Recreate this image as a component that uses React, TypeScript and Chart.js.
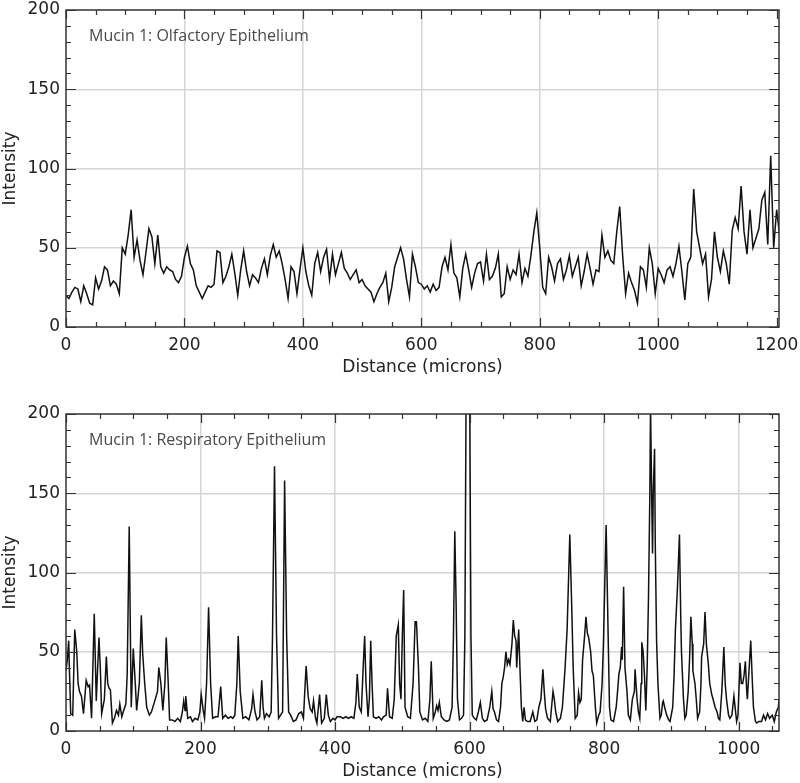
import React, { useEffect, useRef } from 'react';
import { Chart, registerables } from 'chart.js';

Chart.register(...registerables);

// ---------- DATA ----------
// Olfactory epithelium: intensity sampled every 5 microns, from 0 to 1205
const OLF_STEP = 5;
const olfIntensity = [
  20, 18, 22, 25, 24, 16, 26, 21, 15, 14,
  31, 24, 29, 38, 36, 26, 29, 27, 21, 50,
  46, 58, 74, 44, 55, 42, 33, 47, 62, 57,
  40, 58, 38, 34, 38, 36, 35, 30, 28, 32,
  44, 51, 40, 36, 26, 22, 18, 22, 26, 25,
  27, 48, 47, 28, 32, 38, 46, 34, 20, 36,
  48, 35, 26, 33, 31, 28, 37, 43, 33, 45,
  52, 44, 48, 40, 30, 18, 38, 35, 21, 36,
  50, 35, 26, 20, 40, 47, 35, 44, 49, 30,
  46, 33, 40, 47, 37, 34, 30, 33, 36, 28,
  30, 26, 24, 22, 16, 21, 25, 28, 34, 16,
  25, 38, 44, 50, 43, 30, 19, 46, 38, 28,
  27, 24, 26, 22, 27, 23, 25, 38, 44, 36,
  52, 34, 31, 19, 37, 46, 36, 25, 34, 40,
  41, 29, 46, 30, 32, 37, 46, 19, 21, 38,
  30, 36, 33, 46, 28, 37, 32, 45, 60, 72,
  50, 25, 21, 44, 38, 29, 40, 43, 30, 36,
  45, 32, 38, 44, 26, 35, 46, 37, 27, 36,
  35, 58, 44, 48, 42, 40, 60, 76, 45, 21,
  34, 28, 23, 15, 38, 36, 25, 50, 40, 21,
  37, 33, 28, 36, 38, 32, 40, 51, 35, 17,
  40, 44, 87, 60, 50, 40, 46, 19, 30, 60,
  44, 35, 48, 40, 27, 61, 69, 62, 89, 60,
  46, 74, 50, 56, 62, 80, 85, 52, 108, 50,
  74, 58,
];

// Respiratory epithelium: [distance (microns), intensity]
const respProfile: [number, number][] = [
  [0, 38], [2, 45], [4, 57], [5, 40], [7, 11], [10, 10], [13, 64], [16, 50], [18, 30], [20, 25],
  [23, 22], [26, 11], [30, 32], [33, 28], [35, 29], [38, 8], [42, 74], [45, 19], [49, 59], [51, 40],
  [53, 11], [57, 20], [60, 47], [62, 30], [64, 27], [66, 26], [69, 5], [72, 8], [75, 13], [78, 10],
  [80, 17], [83, 9], [85, 12], [89, 17], [91, 36], [94, 129], [96, 50], [97, 15], [100, 52], [103, 30],
  [105, 13], [109, 30], [112, 73], [114, 49], [117, 30], [120, 15], [124, 10], [127, 12], [132, 19], [136, 25],
  [138, 40], [141, 30], [144, 13], [147, 30], [149, 59], [152, 30], [154, 7], [158, 7], [162, 6], [166, 8],
  [170, 6], [173, 12], [175, 19], [177, 13], [178, 22], [181, 8], [185, 9], [188, 6], [192, 8], [196, 7],
  [199, 12], [201, 23], [204, 13], [206, 8], [209, 30], [212, 78], [215, 30], [218, 8], [222, 9], [226, 9],
  [230, 28], [233, 8], [237, 10], [241, 8], [245, 9], [248, 8], [251, 10], [254, 30], [256, 60], [259, 25],
  [263, 8], [267, 9], [272, 7], [276, 14], [278, 23], [281, 12], [284, 7], [288, 9], [291, 32], [293, 15],
  [295, 8], [298, 11], [302, 9], [305, 12], [307, 60], [310, 167], [313, 60], [316, 8], [319, 10], [322, 12],
  [325, 158], [328, 60], [331, 12], [334, 10], [338, 6], [342, 7], [346, 11], [350, 12], [353, 8], [355, 25],
  [357, 41], [360, 22], [363, 14], [366, 12], [368, 19], [371, 8], [373, 5], [377, 23], [380, 5], [384, 8],
  [387, 23], [390, 10], [393, 6], [397, 8], [400, 7], [403, 9], [408, 9], [412, 8], [416, 9], [420, 8],
  [424, 9], [428, 8], [431, 18], [433, 36], [436, 15], [439, 12], [442, 42], [444, 60], [446, 30], [449, 9],
  [451, 20], [453, 57], [455, 30], [457, 9], [461, 8], [465, 9], [469, 7], [472, 9], [476, 10], [478, 27],
  [481, 9], [485, 8], [488, 20], [491, 60], [494, 67], [496, 30], [498, 20], [500, 60], [502, 89], [504, 15],
  [508, 9], [512, 8], [516, 30], [519, 69], [521, 69], [524, 40], [526, 12], [530, 7], [534, 8], [538, 6],
  [541, 20], [543, 44], [546, 8], [549, 12], [551, 16], [553, 13], [555, 18], [558, 9], [562, 7], [566, 6],
  [570, 7], [574, 15], [576, 60], [578, 126], [580, 80], [582, 20], [585, 7], [588, 8], [591, 10], [593, 60],
  [595, 230], [598, 215], [600, 230], [602, 60], [604, 10], [607, 8], [610, 7], [613, 12], [616, 18], [619, 8],
  [622, 6], [626, 7], [630, 15], [633, 25], [635, 14], [637, 12], [640, 7], [643, 6], [646, 15], [648, 30],
  [650, 34], [652, 40], [654, 50], [656, 42], [658, 45], [660, 42], [663, 55], [665, 70], [667, 60], [669, 57],
  [670, 40], [673, 64], [675, 38], [677, 15], [679, 6], [681, 15], [683, 7], [686, 6], [690, 6], [694, 12],
  [697, 6], [700, 7], [703, 15], [706, 20], [709, 39], [711, 25], [713, 14], [716, 8], [720, 6], [724, 25],
  [726, 20], [728, 12], [731, 6], [735, 8], [738, 15], [742, 40], [745, 64], [749, 124], [752, 76], [754, 40],
  [757, 8], [760, 10], [762, 24], [764, 18], [766, 20], [768, 45], [771, 60], [773, 72], [775, 62], [777, 59],
  [780, 50], [782, 38], [784, 35], [787, 15], [789, 5], [792, 10], [794, 12], [797, 30], [799, 55], [803, 130],
  [806, 60], [808, 15], [810, 7], [814, 6], [818, 15], [820, 25], [822, 36], [824, 40], [826, 53], [827, 45],
  [829, 91], [831, 40], [834, 25], [836, 10], [839, 7], [842, 20], [845, 25], [846, 39], [849, 20], [851, 12],
  [853, 8], [855, 30], [856, 56], [858, 50], [860, 35], [862, 13], [864, 40], [866, 85], [868, 150], [869, 205],
  [871, 140], [872, 112], [873, 150], [875, 178], [876, 120], [878, 57], [880, 30], [883, 8], [885, 10], [887, 18],
  [888, 19], [890, 15], [893, 10], [896, 7], [898, 6], [902, 15], [904, 35], [906, 64], [909, 90], [912, 124],
  [914, 70], [915, 50], [918, 20], [920, 8], [922, 10], [925, 25], [927, 45], [929, 72], [931, 55], [932, 38],
  [935, 30], [937, 20], [939, 8], [942, 12], [944, 30], [945, 47], [948, 55], [950, 75], [952, 55], [955, 42],
  [957, 30], [960, 23], [962, 20], [965, 15], [968, 12], [970, 8], [972, 7], [975, 25], [978, 53], [980, 30],
  [982, 20], [985, 10], [987, 8], [990, 10], [993, 22], [995, 14], [997, 6], [999, 10], [1002, 43], [1004, 30],
  [1006, 30], [1008, 35], [1010, 44], [1012, 25], [1013, 20], [1015, 35], [1018, 57], [1020, 35], [1022, 15], [1025, 6],
  [1027, 5], [1030, 6], [1034, 6], [1037, 10], [1040, 7], [1043, 11], [1046, 8], [1050, 10], [1053, 6], [1056, 12],
  [1059, 15], [1060, 20],
];

const olfTitle = 'Mucin 1: Olfactory Epithelium';
const respTitle = 'Mucin 1: Respiratory Epithelium';
const xAxisTitle = 'Distance (microns)';
const yAxisTitle = 'Intensity';
const olfXTicks = [0, 200, 400, 600, 800, 1000, 1200];
const respXTicks = [0, 200, 400, 600, 800, 1000];
const yTicks = [0, 50, 100, 150, 200];
const yMax = 200;
const yMajorStep = 50;
const yMinorStep = 10;
const xMajorStep = 200;
const xMinorStep = 50;

// ---------- STYLE ----------
const AXIS_FONT = "'DejaVu Sans', 'Liberation Sans', Arial, sans-serif";
const NOTE_FONT = "'Open Sans', 'Noto Sans', sans-serif";
const TEXT_COLOR = '#222';
const GRID_COLOR = '#d6d6d6';
const FRAME_COLOR = '#333';

const framePlugin = {
  id: 'frameTicks',
  afterDatasetsDraw(chart: any, _args: any, opts: any) {
    const { ctx, chartArea: a } = chart;
    const xs = chart.scales.x;
    const ys = chart.scales.y;
    ctx.save();
    ctx.strokeStyle = FRAME_COLOR;
    ctx.lineWidth = 1.2;
    ctx.beginPath();
    for (let v = xs.min; v <= xs.max + 1e-6; v += xMinorStep) {
      const px = Math.round(xs.getPixelForValue(v)) + 0.5;
      const len = v % xMajorStep === 0 ? 9 : 5;
      ctx.moveTo(px, a.bottom);
      ctx.lineTo(px, a.bottom - len);
      ctx.moveTo(px, a.top);
      ctx.lineTo(px, a.top + len);
    }
    for (let v = ys.min; v <= ys.max + 1e-6; v += yMinorStep) {
      const py = Math.round(ys.getPixelForValue(v)) + 0.5;
      const len = v % yMajorStep === 0 ? 10 : 5;
      ctx.moveTo(a.left, py);
      ctx.lineTo(a.left + len, py);
      ctx.moveTo(a.right, py);
      ctx.lineTo(a.right - len, py);
    }
    ctx.stroke();
    ctx.lineWidth = 1.5;
    ctx.strokeRect(a.left, a.top, a.right - a.left, a.bottom - a.top);
    // panel annotation
    ctx.fillStyle = '#4a4a4a';
    ctx.font = `16px ${NOTE_FONT}`;
    ctx.textBaseline = 'alphabetic';
    ctx.textAlign = 'left';
    ctx.fillText(opts.note, a.left + 23, a.top + 31);
    ctx.restore();
  },
};

const tickFont = { family: AXIS_FONT, size: 17 };

function buildConfig(
  points: { x: number; y: number }[],
  xMax: number,
  xTicks: number[],
  note: string,
  padTop: number,
  xAxisHeight: number,
  xTitlePadBottom: number,
): any {
  return {
    type: 'line',
    data: {
      datasets: [
        {
          data: points,
          borderColor: '#111',
          borderWidth: 1.5,
          pointRadius: 0,
          tension: 0,
          fill: false,
        },
      ],
    },
    options: {
      animation: false,
      responsive: false,
      maintainAspectRatio: false,
      events: [],
      layout: { padding: { top: padTop, right: 21, left: 0, bottom: 0 } },
      plugins: {
        legend: { display: false },
        tooltip: { enabled: false },
        frameTicks: { note },
      },
      scales: {
        x: {
          type: 'linear',
          min: 0,
          max: xMax,
          afterBuildTicks: (s: any) => {
            s.ticks = xTicks.map((v) => ({ value: v }));
          },
          ticks: {
            autoSkip: false,
            maxRotation: 0,
            padding: 8,
            color: TEXT_COLOR,
            font: tickFont,
            callback: (v: any) => String(v),
          },
          grid: {
            color: (c: any) =>
              c.tick && (c.tick.value === 0 || c.tick.value >= 1200) ? 'rgba(0,0,0,0)' : GRID_COLOR,
            lineWidth: 1.5,
            drawTicks: false,
            tickLength: 0,
          },
          border: { display: false },
          title: {
            display: true,
            text: xAxisTitle,
            color: TEXT_COLOR,
            font: tickFont,
            padding: { top: 0, bottom: xTitlePadBottom },
          },
          afterFit: (s: any) => {
            s.height = xAxisHeight;
            s.paddingLeft = 0;
            s.paddingRight = 0;
          },
        },
        y: {
          type: 'linear',
          min: 0,
          max: yMax,
          afterBuildTicks: (s: any) => {
            s.ticks = yTicks.map((v) => ({ value: v }));
          },
          ticks: {
            padding: 6,
            color: TEXT_COLOR,
            font: tickFont,
            callback: (v: any) => String(v),
          },
          grid: {
            color: (c: any) =>
              c.tick && (c.tick.value === 0 || c.tick.value === yMax) ? 'rgba(0,0,0,0)' : GRID_COLOR,
            lineWidth: 1.5,
            drawTicks: false,
            tickLength: 0,
          },
          border: { display: false },
          title: {
            display: true,
            text: yAxisTitle,
            color: TEXT_COLOR,
            font: tickFont,
            padding: { top: 0, bottom: 0 },
          },
          afterFit: (s: any) => {
            s.width = 66;
            s.paddingTop = 0;
            s.paddingBottom = 0;
          },
        },
      },
    },
    plugins: [framePlugin],
  };
}

export default function App() {
  const topRef = useRef<HTMLCanvasElement | null>(null);
  const botRef = useRef<HTMLCanvasElement | null>(null);

  useEffect(() => {
    const olfPoints = olfIntensity.map((v, i) => ({ x: i * OLF_STEP, y: v }));
    const respPoints = respProfile.map(([d, v]) => ({ x: d, y: v }));
    const c1 = new Chart(
      topRef.current as HTMLCanvasElement,
      buildConfig(olfPoints, 1204, olfXTicks, olfTitle, 10, 63, 12),
    );
    const c2 = new Chart(
      botRef.current as HTMLCanvasElement,
      buildConfig(respPoints, 1060, respXTicks, respTitle, 24, 52, 1),
    );
    return () => {
      c1.destroy();
      c2.destroy();
    };
  }, []);

  return (
    <div style={{ position: 'absolute', left: 0, top: 0, width: 800, height: 783, background: '#fff' }}>
      <canvas
        ref={topRef}
        width={800}
        height={390}
        style={{ position: 'absolute', left: 0, top: 0, width: 800, height: 390 }}
      />
      <canvas
        ref={botRef}
        width={800}
        height={393}
        style={{ position: 'absolute', left: 0, top: 390, width: 800, height: 393 }}
      />
    </div>
  );
}
